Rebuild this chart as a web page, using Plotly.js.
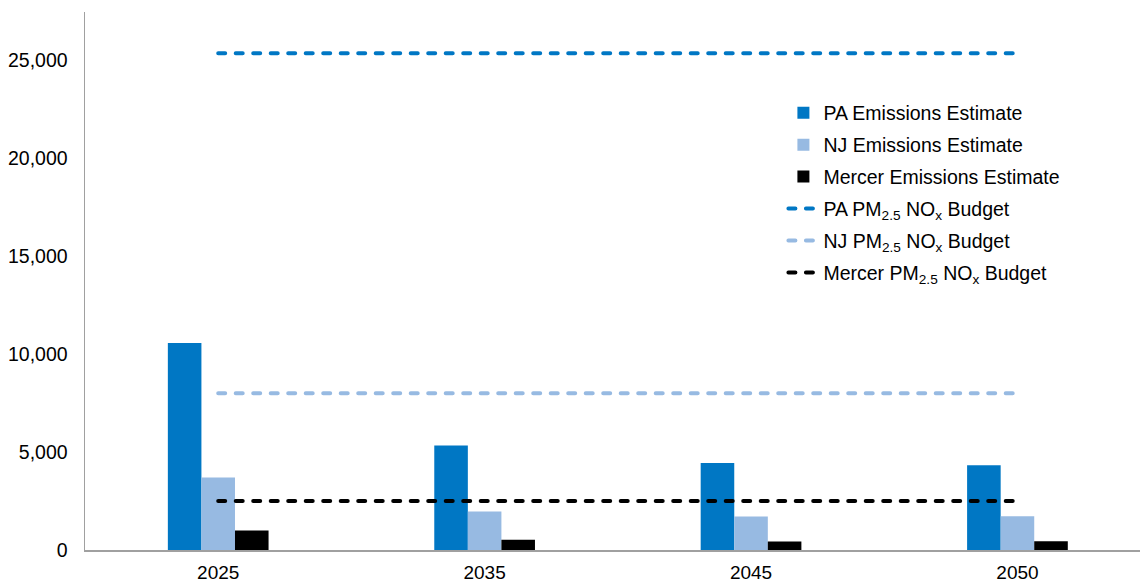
<!DOCTYPE html>
<html>
<head>
<meta charset="utf-8">
<script src="https://cdn.plot.ly/plotly-3.0.1.min.js"></script>
<style>
html,body{margin:0;padding:0;background:#fff;overflow:hidden;}
#chart{width:1140px;height:584px;}
.js-line{stroke-linecap:round;}
</style>
</head>
<body>
<div id="chart"></div>
<script>
const years = ['2025', '2035', '2045', '2050'];
const paEstimate = [10560, 5330, 4440, 4320];
const njEstimate = [3700, 1960, 1710, 1720];
const mercerEstimate = [1000, 520, 430, 450];
const paBudget = [25340, 25340, 25340, 25340];
const njBudget = [8000, 8000, 8000, 8000];
const mercerBudget = [2500, 2500, 2500, 2500];

const cPA = '#0077C4', cNJ = '#97BAE2', cMer = '#000000';
const dash = '7px,10.5px';

const traces = [
  {type:'bar', name:'PA Emissions Estimate', legendgroup:'a', x:years, y:paEstimate, marker:{color:cPA}},
  {type:'bar', name:'NJ Emissions Estimate', legendgroup:'b', x:years, y:njEstimate, marker:{color:cNJ}},
  {type:'bar', name:'Mercer Emissions Estimate', legendgroup:'c', x:years, y:mercerEstimate, marker:{color:cMer}},
  {type:'scatter', mode:'lines', name:'PA PM<sub>2.5</sub> NO<sub>x</sub> Budget', legendgroup:'d', x:years, y:paBudget, line:{color:cPA, width:4, dash:dash}},
  {type:'scatter', mode:'lines', name:'NJ PM<sub>2.5</sub> NO<sub>x</sub> Budget', legendgroup:'e', x:years, y:njBudget, line:{color:cNJ, width:4, dash:dash}},
  {type:'scatter', mode:'lines', name:'Mercer PM<sub>2.5</sub> NO<sub>x</sub> Budget', legendgroup:'f', x:years, y:mercerBudget, line:{color:cMer, width:4, dash:dash}}
];

const layout = {
  width:1140, height:584,
  margin:{l:85, r:0, t:12, b:34},
  paper_bgcolor:'#fff', plot_bgcolor:'#fff',
  font:{family:'Liberation Sans, Arial, sans-serif', size:19, color:'#000'},
  barmode:'group', bargap:0.622, bargroupgap:0,
  showlegend:true,
  legend:{x:0.662, y:0.8485, xanchor:'left', yanchor:'top', bgcolor:'rgba(0,0,0,0)', font:{size:19.5}, traceorder:'grouped', tracegroupgap:3.6},
  xaxis:{type:'category', range:[-0.5, 3.46], showgrid:false, zeroline:false, showline:true, linecolor:'#a0a0a0', linewidth:1.5, ticks:'', ticklabelstandoff:5, tickfont:{size:19}},
  yaxis:{range:[0, 27450], dtick:5000, tick0:0, tickformat:',d', showgrid:false, zeroline:false, showline:true, linecolor:'#a0a0a0', linewidth:1.5, ticks:'', ticklen:0, ticklabelstandoff:12, tickfont:{size:19.5}}
};

Plotly.newPlot('chart', traces, layout, {displayModeBar:false, staticPlot:true});
</script>
</body>
</html>
